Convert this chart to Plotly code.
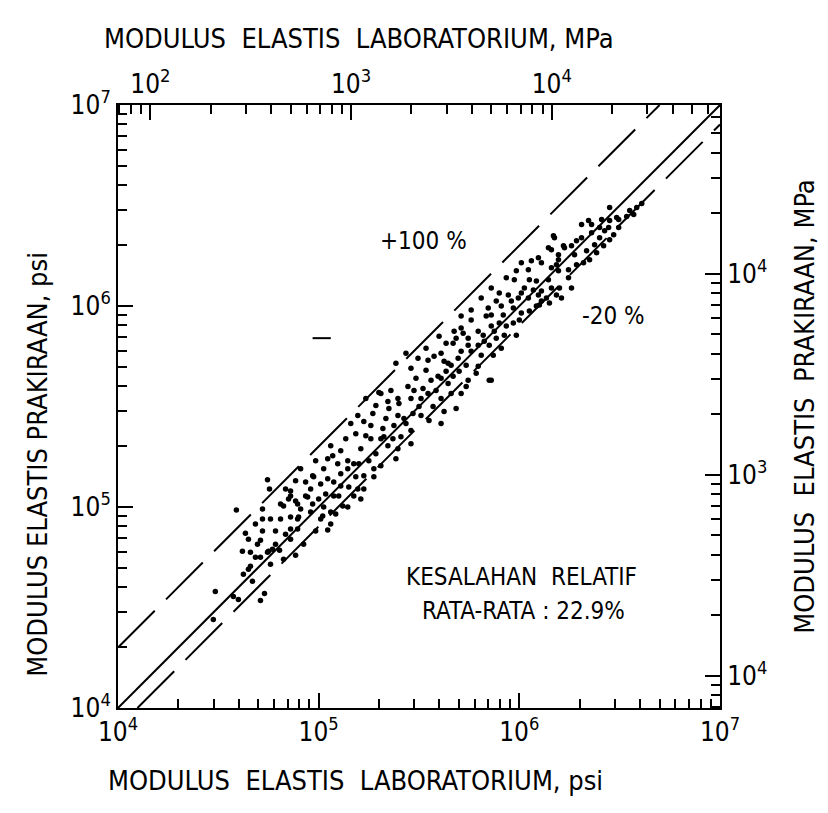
import math
import plotly.graph_objects as go

# ---------------- data (log10 of modulus in psi) ----------------
lab_log10_psi = [
    4.475, 4.485, 4.575, 4.600, 4.710, 4.730, 4.590, 4.745, 4.755, 4.720,
    4.720, 4.720, 4.635, 4.710, 4.695, 4.620, 4.660, 4.685, 4.710, 4.660,
    4.650, 4.750, 4.770, 4.805, 4.785, 4.810, 4.810, 4.850, 4.860, 4.885,
    4.935, 4.970, 4.945, 4.895, 4.860, 4.895, 4.860, 4.895, 4.860, 4.960,
    4.925, 4.885, 4.985, 5.000, 5.045, 5.060, 4.745,
    4.670, 4.625, 4.760, 4.825, 4.785, 4.835, 4.910, 5.010, 4.685, 4.650,
    4.760, 4.835, 4.910,
    # group B
    5.300, 5.285, 5.345, 5.400, 5.395, 5.195, 5.225, 5.260, 5.185, 5.235,
    5.260, 5.310, 5.345, 5.395, 5.460, 5.060, 5.110, 5.070, 5.045, 4.985,
    5.025, 5.095, 5.145, 5.175, 5.200, 5.145, 5.250, 5.275, 5.310, 5.225,
    5.275, 4.975, 5.045, 5.075, 5.110, 5.150, 5.195, 5.225, 4.860, 4.935,
    4.885, 5.075, 5.100, 5.175, 5.120, 5.145, 5.025, 5.060, 4.900, 4.825,
    5.020,
    5.160, 5.135, 5.210, 5.285, 5.010, 5.185, 5.110, 4.960, 5.035, 5.210,
    5.085, 4.970, 5.370, 5.435,
    # group C
    5.600, 5.675, 5.710, 5.670, 5.745, 5.795, 5.825, 5.760, 5.810, 5.710,
    5.695, 5.495, 5.545, 5.575, 5.625, 5.660, 5.460, 5.595, 5.610, 5.560,
    5.645, 5.700, 5.745, 5.850, 5.735, 5.485, 5.445, 5.475, 5.520, 5.545,
    5.610, 5.660, 5.460, 5.395, 5.310, 5.350, 5.500, 5.570, 5.625, 5.425,
    5.510, 5.550, 5.375, 5.320, 5.325, 5.410, 5.235,
    5.635, 5.535, 5.435, 5.385, 5.535, 5.670, 5.785, 5.710, 5.585, 5.510,
    5.360, 5.270, 5.335, 5.470, 5.610, 5.685, 5.460, 5.385,
    # group D
    6.160, 6.195, 6.060, 6.110, 6.160, 6.195, 6.245, 5.985, 5.975, 6.050,
    6.025, 6.070, 6.110, 6.160, 6.200, 6.185, 6.110, 6.045, 5.995, 5.945,
    5.900, 5.885, 5.960, 5.970, 5.845, 5.860, 5.920, 6.010, 6.050, 5.970,
    5.900, 5.860, 5.820, 5.875, 5.925, 5.985, 5.685, 5.745, 5.795, 5.850,
    5.870, 5.645, 5.735, 5.795, 5.635,
    6.010, 5.935, 5.860, 5.810, 5.760, 5.910, 6.010, 6.085, 6.150, 6.210,
    6.260, 5.885, 5.935, 5.760, 5.710, 5.720, 5.610, 5.910, 6.000, 5.835,
    # group E
    6.345, 6.360, 6.410, 6.450, 6.495, 6.495, 6.360, 6.425, 6.470, 6.400,
    6.450, 6.375, 6.420, 6.335, 6.350, 6.285, 6.225, 6.175, 6.145, 6.195,
    6.275, 6.285, 6.245, 6.185, 6.095, 6.045, 6.085, 6.145, 6.095, 6.135,
    6.100, 6.450, 6.485, 6.445, 6.400, 6.310, 6.170, 6.220, 5.860, 6.550,
    6.585, 6.610, 6.535, 6.570,
    6.310, 6.260, 6.320, 6.385,
]
pred_log10_psi = [
    4.440, 4.580, 4.555, 4.540, 4.535, 4.570, 4.985, 5.135, 5.090, 4.990,
    4.940, 4.880, 4.870, 4.835, 4.815, 4.780, 4.775, 4.750, 4.750, 4.705,
    4.690, 4.780, 4.790, 4.785, 4.880, 4.940, 5.015, 5.040, 5.055, 5.130,
    5.125, 5.155, 5.050, 5.015, 4.950, 4.940, 4.890, 4.890, 4.840, 4.975,
    4.815, 4.760, 4.880, 5.040, 4.885, 4.915, 4.775,
    4.630, 4.665, 4.715, 4.740, 4.815, 4.865, 4.990, 4.940, 4.915, 4.840,
    4.940, 5.090, 5.190,
    # group B
    5.570, 5.505, 5.525, 5.515, 5.455, 5.455, 5.425, 5.405, 5.365, 5.355,
    5.340, 5.340, 5.305, 5.290, 5.380, 5.305, 5.280, 5.255, 5.240, 5.230,
    5.190, 5.215, 5.230, 5.215, 5.215, 5.190, 5.230, 5.190, 5.205, 5.155,
    5.150, 5.150, 5.140, 5.125, 5.105, 5.100, 5.090, 5.090, 5.080, 5.055,
    5.030, 5.055, 5.055, 5.055, 5.005, 5.000, 5.000, 4.975, 4.950, 5.005,
    4.955,
    5.415, 5.340, 5.290, 5.265, 5.115, 5.150, 5.165, 5.090, 5.065, 5.040,
    4.965, 5.015, 5.340, 5.415,
    # group C
    5.850, 5.875, 5.890, 5.815, 5.840, 5.875, 5.825, 5.775, 5.755, 5.775,
    5.740, 5.740, 5.730, 5.750, 5.725, 5.705, 5.690, 5.650, 5.640, 5.630,
    5.615, 5.675, 5.630, 5.630, 5.600, 5.640, 5.600, 5.580, 5.590, 5.565,
    5.540, 5.565, 5.540, 5.540, 5.565, 5.490, 5.500, 5.500, 5.475, 5.440,
    5.455, 5.430, 5.405, 5.390, 5.350, 5.350, 5.540,
    5.815, 5.790, 5.765, 5.715, 5.680, 5.650, 5.665, 5.565, 5.580, 5.540,
    5.580, 5.465, 5.440, 5.465, 5.415, 5.490, 5.315, 5.240,
    # group D
    6.280, 6.255, 6.225, 6.215, 6.190, 6.175, 6.140, 6.175, 6.130, 6.130,
    6.090, 6.080, 6.075, 6.090, 6.090, 6.055, 6.025, 6.040, 6.040, 6.055,
    6.065, 6.025, 6.025, 5.990, 5.990, 5.955, 5.955, 5.965, 5.975, 5.915,
    5.915, 5.900, 5.855, 5.875, 5.855, 5.855, 5.840, 5.805, 5.805, 5.805,
    5.755, 5.715, 5.705, 5.700, 5.675,
    6.215, 6.140, 6.090, 6.040, 5.980, 6.000, 6.065, 6.000, 6.015, 6.040,
    6.090, 5.840, 5.900, 5.930, 5.950, 5.865, 5.765, 5.790, 5.930, 5.950,
    # group E
    6.425, 6.405, 6.430, 6.425, 6.430, 6.390, 6.365, 6.375, 6.355, 6.340,
    6.330, 6.305, 6.300, 6.275, 6.230, 6.325, 6.290, 6.340, 6.290, 6.230,
    6.255, 6.205, 6.180, 6.205, 6.240, 6.180, 6.125, 6.130, 6.055, 6.040,
    6.005, 6.490, 6.440, 6.390, 6.390, 6.405, 6.350, 6.300, 5.630, 6.475,
    6.490, 6.510, 6.445, 6.455,
    6.340, 6.300, 6.215, 6.265,
]
# stray short mark in the original
stray_lab_log10 = [5.015]
stray_pred_log10 = [5.840]

# reference lines: predicted = ratio * laboratory
line_ratios = [1.0, 2.0, 0.8]
line_dashes = ["solid", "52px,16px", "52px,16px"]
psi_range = [1e4, 1e7]
PSI_TO_MPA = 0.00689476

x_ticks_psi = [1e4, 1e5, 1e6, 1e7]
x_tick_text = ["10<sup>4</sup>", "10<sup>5</sup>", "10<sup>6</sup>", "10<sup>7</sup>"]
mpa_ticks = [1e2, 1e3, 1e4]
top_tick_text = ["10<sup>2</sup>", "10<sup>3</sup>", "10<sup>4</sup>"]
right_tick_text = ["10<sup>4</sup>", "10<sup>3</sup>", "10<sup>4</sup>"]

# ---------------- figure ----------------
FONT = "Liberation Sans Narrow, DejaVu Sans Condensed, Arial Narrow, sans-serif"
lab = [10 ** v for v in lab_log10_psi]
pred = [10 ** v for v in pred_log10_psi]

fig = go.Figure()
for r, d in zip(line_ratios, line_dashes):
    x0 = max(psi_range[0], psi_range[0] / r)
    x1 = min(psi_range[1], psi_range[1] / r)
    fig.add_trace(go.Scatter(x=[x0, x1], y=[x0 * r, x1 * r], mode="lines",
                             line=dict(color="black", width=2, dash=d),
                             showlegend=False, hoverinfo="skip"))

fig.add_trace(go.Scatter(x=lab, y=pred, mode="markers",
                         marker=dict(color="black", size=5.5, line=dict(width=0)),
                         showlegend=False))
fig.add_trace(go.Scatter(x=[10 ** v for v in stray_lab_log10],
                         y=[10 ** v for v in stray_pred_log10], mode="markers",
                         marker=dict(symbol="line-ew", size=13,
                                     line=dict(color="black", width=2)),
                         showlegend=False))

mpa_lo, mpa_hi = psi_range[0] * PSI_TO_MPA, psi_range[1] * PSI_TO_MPA
# invisible traces to activate the extra axes (MPa scales and minor ticks)
for xa, ya, v in [("x2", "y2", mpa_lo), ("x3", "y3", psi_range[0]), ("x4", "y4", mpa_lo)]:
    fig.add_trace(go.Scatter(x=[v], y=[v], xaxis=xa, yaxis=ya, mode="markers",
                             marker=dict(opacity=0), showlegend=False, hoverinfo="skip"))


def minor_vals(lo_exp, hi_exp):
    return [m * 10 ** e for e in range(lo_exp, hi_exp) for m in range(2, 10)]


tickfont = dict(family=FONT, size=26, color="black")
major = dict(type="log", showgrid=False, zeroline=False, showline=True,
             linecolor="black", linewidth=2, ticks="inside", ticklen=15,
             tickwidth=1.6, tickcolor="black", tickmode="array", tickfont=tickfont)
minor = dict(type="log", showgrid=False, zeroline=False, showline=False,
             ticks="inside", ticklen=9, tickwidth=1.5, tickcolor="black",
             tickmode="array", showticklabels=False)
psi_log_range = [4, 7]
mpa_log_range = [math.log10(mpa_lo), math.log10(mpa_hi)]

fig.update_layout(
    width=828, height=813,
    margin=dict(l=118, r=108, t=105, b=105),
    paper_bgcolor="white", plot_bgcolor="white",
    font=dict(family=FONT, color="black"),
    xaxis=dict(**major, range=psi_log_range, tickvals=x_ticks_psi,
               ticktext=x_tick_text, side="bottom", anchor="y"),
    yaxis=dict(**major, range=psi_log_range, tickvals=x_ticks_psi,
               ticktext=x_tick_text, side="left", anchor="x"),
    xaxis2=dict(**major, range=mpa_log_range, overlaying="x", side="top", anchor="y",
                tickvals=mpa_ticks, ticktext=top_tick_text),
    yaxis2=dict(**major, range=mpa_log_range, overlaying="y", side="right", anchor="x",
                tickvals=mpa_ticks, ticktext=right_tick_text),
    xaxis3=dict(**minor, range=psi_log_range, overlaying="x", side="bottom", anchor="y",
                tickvals=minor_vals(4, 7)),
    yaxis3=dict(**minor, range=psi_log_range, overlaying="y", side="left", anchor="x",
                tickvals=minor_vals(4, 7)),
    xaxis4=dict(**minor, range=mpa_log_range, overlaying="x", side="top", anchor="y",
                tickvals=minor_vals(1, 5)),
    yaxis4=dict(**minor, range=mpa_log_range, overlaying="y", side="right", anchor="x",
                tickvals=minor_vals(1, 5)),
)

title_font = dict(family=FONT, size=27, color="black")
note_font = dict(family=FONT, size=24, color="black")
mid = dict(xanchor="center", yanchor="middle", showarrow=False)
anns = [
    dict(text="MODULUS  ELASTIS  LABORATORIUM, MPa", x=0.40, y=1.11, xref="paper", yref="paper",
         font=title_font, **mid),
    dict(text="MODULUS  ELASTIS  LABORATORIUM, psi", x=0.395, y=-0.12, xref="paper", yref="paper",
         font=title_font, **mid),
    dict(text="MODULUS ELASTIS PRAKIRAAN, psi", x=-0.133, y=0.405, xref="paper", yref="paper",
         textangle=-90, font=title_font, **mid),
    dict(text="MODULUS  ELASTIS  PRAKIRAAN, MPa", x=1.14, y=0.50, xref="paper", yref="paper",
         textangle=-90, font=title_font, **mid),
    dict(text="+100 %", x=5.52, y=6.325, xref="x", yref="y", font=note_font, **mid),
    dict(text="-20 %", x=6.47, y=5.95, xref="x", yref="y", font=note_font, **mid),
    dict(text="KESALAHAN  RELATIF", x=6.01, y=4.65, xref="x", yref="y", font=note_font, **mid),
    dict(text="RATA-RATA : 22.9%", x=6.02, y=4.485, xref="x", yref="y", font=note_font, **mid),
]
fig.update_layout(annotations=anns)

fig.write_html("out.html")
